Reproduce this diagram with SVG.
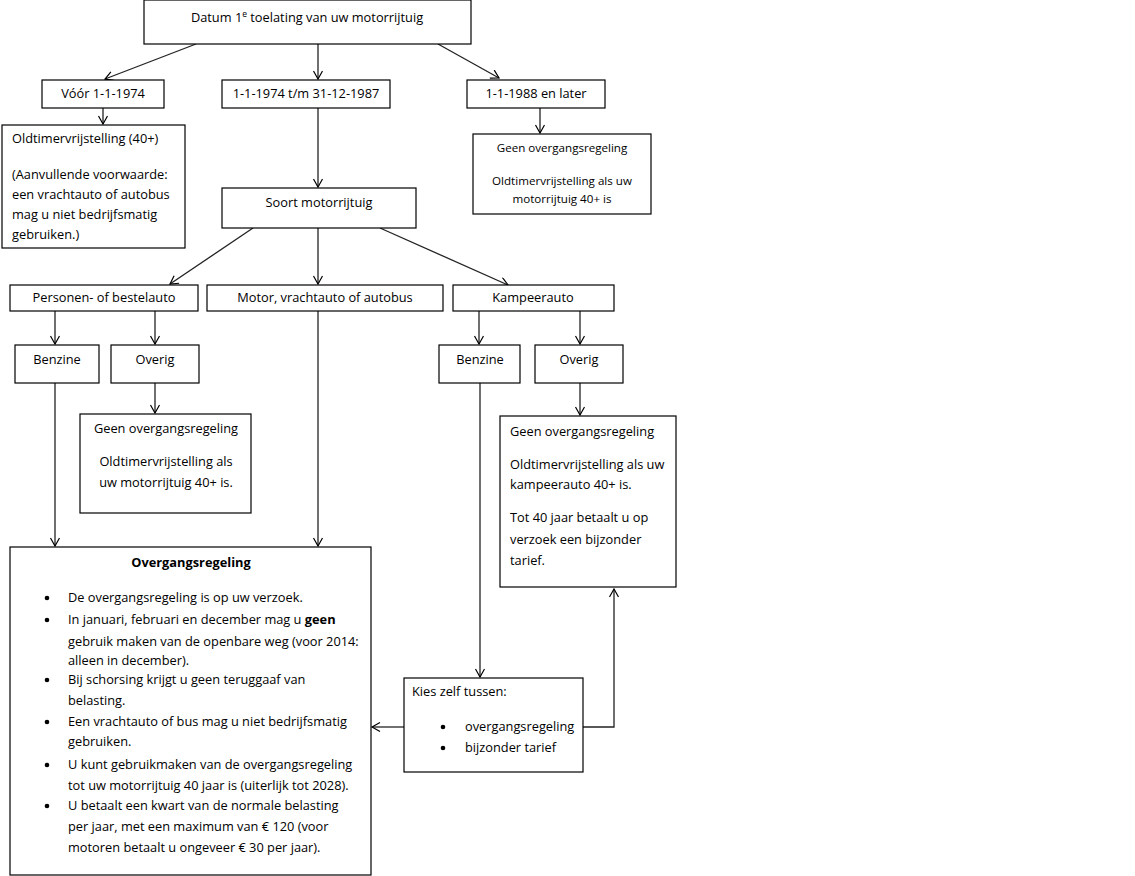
<svg xmlns="http://www.w3.org/2000/svg" width="1135" height="876" viewBox="0 0 1135 876">
<defs>
<marker id="arr" markerUnits="userSpaceOnUse" markerWidth="12" markerHeight="12" refX="9" refY="5" orient="auto">
<path d="M1,0.5 L9,5 L1,9.5" fill="none" stroke="#000" stroke-width="1.2"/>
</marker>
<style>
rect{fill:#fff;stroke:#000;stroke-width:1.2}
text{font-family:"Open Sans","Liberation Sans",sans-serif;font-size:12.8px;fill:#000}
.c{text-anchor:middle}
.s{font-size:11.6px}
.b{font-weight:bold}
#connectors line,#connectors path{stroke:#222;stroke-width:1.3;fill:none;marker-end:url(#arr)}
circle{fill:#000}
</style>
</defs>
<rect x="0" y="0" width="1135" height="876" style="fill:#fff;stroke:none"/>
<g id="connectors">
<line x1="196" y1="44" x2="105" y2="79"/>
<line x1="318" y1="44" x2="318" y2="79"/>
<line x1="438" y1="44" x2="499" y2="78"/>
<line x1="103" y1="108" x2="103" y2="124"/>
<line x1="318" y1="108" x2="318" y2="187"/>
<line x1="540" y1="108" x2="540" y2="133"/>
<line x1="253" y1="228" x2="170" y2="284"/>
<line x1="318" y1="228" x2="318" y2="284"/>
<line x1="380" y1="228" x2="508" y2="285"/>
<line x1="55" y1="311" x2="55" y2="344"/>
<line x1="155" y1="311" x2="155" y2="344"/>
<line x1="479" y1="311" x2="479" y2="344"/>
<line x1="580" y1="311" x2="580" y2="344"/>
<line x1="155" y1="383" x2="155" y2="413"/>
<line x1="580" y1="383" x2="580" y2="415"/>
<line x1="55" y1="383" x2="55" y2="546"/>
<line x1="318" y1="311" x2="318" y2="546"/>
<line x1="480" y1="383" x2="480" y2="677"/>
<line x1="404" y1="727" x2="372" y2="727"/>
<path d="M583,727 L614,727 L614,589"/>
</g>
<g id="n-datum">
<rect x="144" y="0" width="327" height="44"/>
<text class="c" x="307" y="22">Datum 1<tspan font-size="8.5" dy="-5">e</tspan><tspan dy="5"> toelating van uw motorrijtuig</tspan></text>
</g>
<g id="n-voor">
<rect x="42" y="80" width="122" height="28"/>
<text class="c" x="103" y="98">Vóór 1-1-1974</text>
</g>
<g id="n-tussen">
<rect x="222" y="80" width="168" height="28"/>
<text class="c" x="306" y="98">1-1-1974 t/m 31-12-1987</text>
</g>
<g id="n-na">
<rect x="467" y="80" width="138" height="28"/>
<text class="c" x="536" y="98">1-1-1988 en later</text>
</g>
<g id="n-oldtimer">
<rect x="2" y="125" width="183" height="123"/>
<text x="12" y="143">Oldtimervrijstelling (40+)</text>
<text x="12" y="179">(Aanvullende voorwaarde:</text>
<text x="12" y="199">een vrachtauto of autobus</text>
<text x="12" y="219">mag u niet bedrijfsmatig</text>
<text x="12" y="239">gebruiken.)</text>
</g>
<g id="n-geen1988">
<rect x="473" y="134" width="178" height="80"/>
<text class="c s" x="562" y="152">Geen overgangsregeling</text>
<text class="c s" x="562" y="185">Oldtimervrijstelling als uw</text>
<text class="c s" x="562" y="203">motorrijtuig 40+ is</text>
</g>
<g id="n-soort">
<rect x="222" y="188" width="194" height="40"/>
<text class="c" x="319" y="207">Soort motorrijtuig</text>
</g>
<g id="n-personen">
<rect x="10" y="285" width="188" height="26"/>
<text class="c" x="104" y="302">Personen- of bestelauto</text>
</g>
<g id="n-motor">
<rect x="207" y="285" width="236" height="26"/>
<text class="c" x="325" y="302">Motor, vrachtauto of autobus</text>
</g>
<g id="n-kampeer">
<rect x="453" y="285" width="161" height="26"/>
<text class="c" x="533" y="302">Kampeerauto</text>
</g>
<g id="n-benzine1">
<rect x="15" y="345" width="84" height="38"/>
<text class="c" x="57" y="364">Benzine</text>
</g>
<g id="n-overig1">
<rect x="111" y="345" width="88" height="38"/>
<text class="c" x="155" y="364">Overig</text>
</g>
<g id="n-geen-personen">
<rect x="80" y="414" width="171" height="99"/>
<text class="c" x="166" y="433">Geen overgangsregeling</text>
<text class="c" x="166" y="466">Oldtimervrijstelling als</text>
<text class="c" x="166" y="487">uw motorrijtuig 40+ is.</text>
</g>
<g id="n-benzine2">
<rect x="439" y="345" width="81" height="38"/>
<text class="c" x="480" y="364">Benzine</text>
</g>
<g id="n-overig2">
<rect x="535" y="345" width="88" height="38"/>
<text class="c" x="579" y="364">Overig</text>
</g>
<g id="n-geen-kampeer">
<rect x="500" y="416" width="176" height="171"/>
<text x="510" y="436">Geen overgangsregeling</text>
<text x="510" y="469">Oldtimervrijstelling als uw</text>
<text x="510" y="489">kampeerauto 40+ is.</text>
<text x="510" y="522">Tot 40 jaar betaalt u op</text>
<text x="510" y="544">verzoek een bijzonder</text>
<text x="510" y="565">tarief.</text>
</g>
<g id="n-overgangsregeling">
<rect x="10" y="547" width="361" height="328"/>
<text class="c b" x="191" y="567">Overgangsregeling</text>
<circle cx="47" cy="598" r="2.3"/>
<text x="68" y="602">De overgangsregeling is op uw verzoek.</text>
<circle cx="47" cy="620" r="2.3"/>
<text x="68" y="624">In januari, februari en december mag u <tspan class="b">geen</tspan></text>
<text x="68" y="646">gebruik maken van de openbare weg (voor 2014:</text>
<text x="68" y="665">alleen in december).</text>
<circle cx="47" cy="680" r="2.3"/>
<text x="68" y="684">Bij schorsing krijgt u geen teruggaaf van</text>
<text x="68" y="705">belasting.</text>
<circle cx="47" cy="722" r="2.3"/>
<text x="68" y="726">Een vrachtauto of bus mag u niet bedrijfsmatig</text>
<text x="68" y="746">gebruiken.</text>
<circle cx="47" cy="765" r="2.3"/>
<text x="68" y="769">U kunt gebruikmaken van de overgangsregeling</text>
<text x="68" y="790">tot uw motorrijtuig 40 jaar is (uiterlijk tot 2028).</text>
<circle cx="47" cy="806" r="2.3"/>
<text x="68" y="810">U betaalt een kwart van de normale belasting</text>
<text x="68" y="831">per jaar, met een maximum van € 120 (voor</text>
<text x="68" y="852">motoren betaalt u ongeveer € 30 per jaar).</text>
</g>
<g id="n-kies">
<rect x="404" y="678" width="179" height="94"/>
<text x="412" y="696">Kies zelf tussen:</text>
<circle cx="443" cy="727" r="2.3"/>
<text x="465" y="731">overgangsregeling</text>
<circle cx="443" cy="748" r="2.3"/>
<text x="465" y="752">bijzonder tarief</text>
</g>
</svg>
